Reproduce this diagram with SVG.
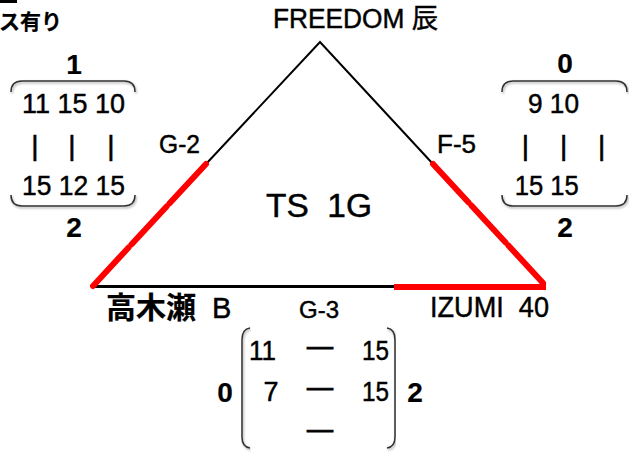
<svg xmlns="http://www.w3.org/2000/svg" width="629" height="452" viewBox="0 0 629 452">
<defs>
<filter id="sh" x="-10%" y="-60%" width="120%" height="220%">
<feDropShadow dx="1" dy="1.5" stdDeviation="1.2" flood-color="#000" flood-opacity="0.35"/>
</filter>
</defs>
<style>
text{font-family:"Liberation Sans","Noto Sans CJK JP",sans-serif;fill:#000;stroke:#000;stroke-width:0.45px;white-space:pre}
.n{font-size:27px}
.b{font-weight:bold;stroke-width:0.2px}
.cjk{font-family:"Noto Sans CJK JP","Liberation Sans",sans-serif}
.bar{font-size:28px;text-anchor:middle;stroke-width:0.6px}
.br{fill:none;stroke:#333;stroke-width:1.5;filter:url(#sh)}
.red{stroke:#f00;stroke-width:6;stroke-linecap:round;fill:none}
.blk{stroke:#000;fill:none}
.mid{text-anchor:middle}
.dash{stroke-width:1px}
</style>
<rect x="0" y="0" width="17" height="3" fill="#000"/>
<text class="cjk b" x="-1" y="29" font-size="21">ス有り</text>

<g id="connectors">
<polyline class="blk" stroke-width="2" points="206,164 320,42 433,164"/>
<line class="blk" stroke-width="3" x1="92" y1="286.5" x2="394" y2="286.5"/>
<path class="red" d="M206,164 L169.4,203.5 M166.6,206.5 L131.4,244.5 M128.6,247.5 L93,286"/>
<path class="red" d="M433,164 L468.6,202.5 M471.4,205.5 L505.6,242.5 M508.4,245.5 L543,283"/>
<line stroke="#f00" stroke-width="6" x1="394" y1="287" x2="546" y2="287"/>
</g>

<g id="node-freedom">
<text x="273" y="28" font-size="27" textLength="165" lengthAdjust="spacingAndGlyphs">FREEDOM 辰</text>
</g>
<g id="node-takagise">
<text xml:space="preserve" x="106" y="318" font-size="29"><tspan class="cjk b" font-size="30">高木瀬</tspan>  B</text>
</g>
<g id="node-izumi">
<text xml:space="preserve" x="430" y="317" font-size="30" textLength="119" lengthAdjust="spacingAndGlyphs">IZUMI  40</text>
</g>
<g id="center-label">
<text xml:space="preserve" x="266" y="217" font-size="33" textLength="106" lengthAdjust="spacingAndGlyphs" stroke-width="0.9">TS  1G</text>
</g>
<g id="label-g2"><text x="159" y="153" font-size="25" textLength="41" lengthAdjust="spacingAndGlyphs">G-2</text></g>
<g id="label-f5"><text x="437" y="153" font-size="25" textLength="39" lengthAdjust="spacingAndGlyphs">F-5</text></g>
<g id="label-g3"><text x="299" y="318" font-size="24" textLength="40" lengthAdjust="spacingAndGlyphs">G-3</text></g>

<g id="score-left">
<text class="b mid" font-size="28" x="74" y="74">1</text>
<path class="br" d="M11,92 Q11,81 22,81 L124,81 Q135,81 135,92"/>
<text class="n" x="22" y="113" textLength="103" lengthAdjust="spacingAndGlyphs">11 15 10</text>
<text class="bar"><tspan x="35" y="155">|</tspan><tspan x="72" y="155">|</tspan><tspan x="111" y="155">|</tspan></text>
<text class="n" x="22" y="195" textLength="103" lengthAdjust="spacingAndGlyphs">15 12 15</text>
<path class="br" d="M11,195 Q11,206 22,206 L124,206 Q135,206 135,195"/>
<text class="b mid" font-size="28" x="74" y="237">2</text>
</g>

<g id="score-right">
<text class="b mid" font-size="28" x="565" y="73">0</text>
<path class="br" d="M502,92 Q502,81 513,81 L616,81 Q627,81 627,92"/>
<text class="n" x="528" y="113" textLength="51" lengthAdjust="spacingAndGlyphs">9 10</text>
<text class="bar"><tspan x="525.5" y="155">|</tspan><tspan x="563.6" y="155">|</tspan><tspan x="601.7" y="155">|</tspan></text>
<text class="n" x="514.7" y="195" textLength="64" lengthAdjust="spacingAndGlyphs">15 15</text>
<path class="br" d="M502,195 Q502,206 513,206 L616,206 Q627,206 627,195"/>
<text class="b mid" font-size="28" x="565" y="237">2</text>
</g>

<g id="score-bottom">
<text class="b mid" font-size="28" x="225" y="402">0</text>
<path class="br" d="M250,328 Q242,329 242,340 L242,437 Q242,447 250,448"/>
<text class="n" x="249" y="360" textLength="27" lengthAdjust="spacingAndGlyphs">11</text>
<text class="n dash" x="307" y="355" textLength="26" lengthAdjust="spacingAndGlyphs">—</text>
<text class="n" x="362" y="360" textLength="27" lengthAdjust="spacingAndGlyphs">15</text>
<text class="n" x="263.5" y="401">7</text>
<text class="n dash" x="307" y="396" textLength="26" lengthAdjust="spacingAndGlyphs">—</text>
<text class="n" x="362" y="401" textLength="27" lengthAdjust="spacingAndGlyphs">15</text>
<text class="n dash" x="307" y="438" textLength="26" lengthAdjust="spacingAndGlyphs">—</text>
<path class="br" d="M387,328 Q395,329 395,340 L395,437 Q395,447 387,448"/>
<text class="b mid" font-size="28" x="415" y="402">2</text>
</g>
</svg>
